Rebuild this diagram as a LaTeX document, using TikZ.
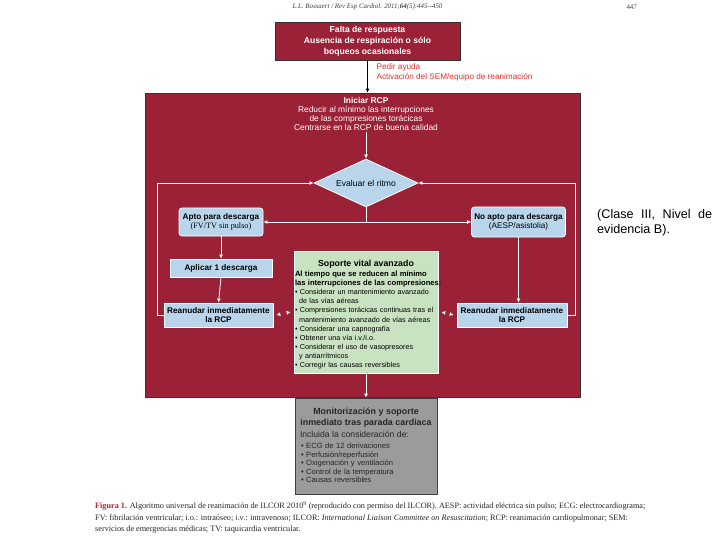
\documentclass[tikz,border=0pt]{standalone}
\usepackage{fontspec}
\setmainfont{Liberation Sans}
\newfontfamily\capserif{Liberation Serif}
\usetikzlibrary{shapes.geometric,arrows.meta,calc}
\definecolor{rcpred}{RGB}{155,34,54}
\definecolor{lblue}{RGB}{184,213,236}
\definecolor{lgreen}{RGB}{200,226,194}
\definecolor{mgray}{RGB}{155,155,155}
\definecolor{alertred}{RGB}{228,50,43}
\definecolor{capred}{RGB}{170,40,50}
\begin{document}
\begin{tikzpicture}[x=1pt,y=-1pt,
  redbox/.style={draw=black!80, fill=rcpred, text=white, line width=0.6pt, inner sep=0pt, align=center},
  bluebox/.style={draw=white, fill=lblue, line width=0.8pt, inner sep=1pt, align=center, font=\fontsize{8.2}{9.6}\selectfont},
  rbluebox/.style={bluebox, rounded corners=3pt},
  wline/.style={draw=white, line width=0.8pt},
  warr/.style={wline, -{Latex[length=4pt,width=4pt]}},
  dtips/.style={draw=rcpred, line width=0.8pt, {Latex[length=4pt,width=4pt,color=white]}-{Latex[length=4pt,width=4pt,color=white]}}
]
\useasboundingbox[fill=white] (0,0) rectangle (720,540);

% header
\node[anchor=west, font=\capserif\itshape\fontsize{6.9}{8}\selectfont, text=black!75] (hdr) at (289,7) {L.L. Bossaert / Rev Esp Cardiol. 2011;\textbf{64}(5):445--450};
\node[anchor=west, font=\capserif\fontsize{6.9}{8}\selectfont, text=black!75] (pg) at (623,7) {447};

% top box
\node[redbox, minimum width=185pt, minimum height=38pt, font=\bfseries\fontsize{8.6}{10.8}\selectfont] (top) at (367.5,41)
  {Falta de respuesta\\Ausencia de respiración o sólo\\boqueos ocasionales};

% big red box
\node[redbox, minimum width=435pt, minimum height=304pt] (big) at (362.5,245) {};

\draw[line width=0.8pt, -{Latex[length=4pt,width=4pt]}] (top.south) -- (top.south |- big.north);

\node[anchor=west, align=left, text=alertred, font=\fontsize{8.2}{10}\selectfont] (help) at (373,72)
  {Pedir ayuda\\Activación del SEM/equipo de reanimación};

% iniciar RCP
\node[align=center, text=white, font=\fontsize{8.4}{9.2}\selectfont, inner sep=1pt] (ini) at (366,114)
  {\textbf{Iniciar RCP}\\Reducir al mínimo las interrupciones\\de las compresiones torácicas\\Centrarse en la RCP de buena calidad};

% diamond
\node[diamond, draw=white, fill=lblue, line width=0.8pt, inner sep=0pt, shape aspect=2.2,
      minimum width=104pt, minimum height=48pt, font=\fontsize{8.6}{9.5}\selectfont] (dia) at (366,183) {Evaluar el ritmo};

\draw[warr] (ini.south) -- (dia.north);

% shockable / non-shockable
\node[rbluebox, minimum width=84pt, minimum height=28pt] (apto) at (221,222)
  {\textbf{Apto para descarga}\\{\capserif (FV/TV sin pulso)}};
\node[rbluebox, minimum width=94pt, minimum height=30pt] (noapto) at (518.5,222)
  {\textbf{No apto para descarga}\\(AESP/asistolia)};

\draw[warr] (dia.south) |- (apto.east);
\draw[warr] (dia.south) |- (noapto.west);

\node[bluebox, minimum width=102pt, minimum height=18pt, font=\bfseries\fontsize{8.2}{9.6}\selectfont] (aplicar) at (221,268) {Aplicar 1 descarga};

\node[bluebox, minimum width=109pt, minimum height=24pt, font=\bfseries\fontsize{8.2}{9.6}\selectfont] (reL) at (218.5,315) {Reanudar inmediatamente\\la RCP};
\node[bluebox, minimum width=110pt, minimum height=24pt, font=\bfseries\fontsize{8.2}{9.6}\selectfont] (reR) at (512,315) {Reanudar inmediatamente\\la RCP};

\draw[warr] (apto.south) -- (aplicar.north);
\draw[warr] (aplicar.south) -- (reL.north);
\draw[warr] (noapto.south) -- (noapto.south |- reR.north);

% loops back to rhythm check
\draw[warr] (reL.west) -- ++(-6,0) coordinate (lc) |- (dia.west);
\draw[warr] (reR.east) -- ++(8,0) coordinate (rc) |- (dia.east);

% green box
\node[draw=white, fill=lgreen, line width=0.8pt, minimum width=144pt, minimum height=122pt,
      text width=142pt, inner sep=1pt, align=left, font=\fontsize{7.2}{9.1}\selectfont] (green) at (366,312)
  {{\centering\fontsize{8.8}{11}\selectfont\rule{0pt}{11pt}\textbf{Soporte vital avanzado}\par}
   \vspace{2pt}
   {\fontsize{7.6}{8.8}\selectfont\bfseries\mbox{Al tiempo que se reducen al mínimo}\\
   \mbox{las interrupciones de las compresiones:}\par}
   \textbullet\ Considerar un mantenimiento avanzado\\
   \hspace*{4pt}de las vías aéreas\\
   \textbullet\ Compresiones torácicas continuas tras el\\
   \hspace*{4pt}mantenimiento avanzado de vías aéreas\\
   \textbullet\ Considerar una capnografía\\
   \textbullet\ Obtener una vía i.v./i.o.\\
   \textbullet\ Considerar el uso de vasopresores\\
   \hspace*{4pt}y antiarrítmicos\\
   \textbullet\ Corregir las causas reversibles};

\draw[dtips] ($(reL.east)+(3,0)$) -- ($(green.west)+(-3,0)$);
\draw[dtips] ($(green.east)+(3,0)$) -- ($(reR.west)+(-3,0)$);

% gray box
\node[draw=black!75, fill=mgray, line width=0.7pt, minimum width=142pt, minimum height=96pt,
      text width=132pt, inner sep=2pt, align=left, text=black!85, font=\fontsize{7.6}{8.5}\selectfont] (gray) at (366,446)
  {{\centering\fontsize{8.9}{10.8}\selectfont\textbf{Monitorización y soporte}\\\textbf{inmediato tras parada cardiaca}\par}
   \vspace{3pt}{\fontsize{8.6}{10}\selectfont Incluida la consideración de:}\par\vspace{3pt}
   \hspace*{1pt}\textbullet\ ECG de 12 derivaciones\\
   \hspace*{1pt}\textbullet\ Perfusión/reperfusión\\
   \hspace*{1pt}\textbullet\ Oxigenación y ventilación\\
   \hspace*{1pt}\textbullet\ Control de la temperatura\\
   \hspace*{1pt}\textbullet\ Causas reversibles\vspace{1pt}};

\draw[warr] (green.south) -- (gray.north);

% side text
\node[anchor=west, inner sep=0pt, font=\fontsize{12.6}{15}\selectfont, align=left] (side) at (597,223)
  {\makebox[115pt][s]{(Clase III, Nivel de}\\evidencia B).};

% caption
\begin{scope}[every node/.style={anchor=west, inner sep=0pt, font=\capserif\fontsize{8.2}{9}\selectfont, text=black!85}]
\node (cap1) at (95,506) {{\color{capred}\textbf{Figura 1.}} Algoritmo universal de reanimación de ILCOR 2010\textsuperscript{9} (reproducido con permiso del ILCOR). AESP: actividad eléctrica sin pulso; ECG: electrocardiograma;};
\node (cap2) at (95,518) {FV: fibrilación ventricular; i.o.: intraóseo; i.v.: intravenoso; ILCOR: \textit{International Liaison Committee on Resuscitation}; RCP: reanimación cardiopulmonar; SEM:};
\node (cap3) at (95,530) {servicios de emergencias médicas; TV: taquicardia ventricular.};
\end{scope}
\end{tikzpicture}
\end{document}
